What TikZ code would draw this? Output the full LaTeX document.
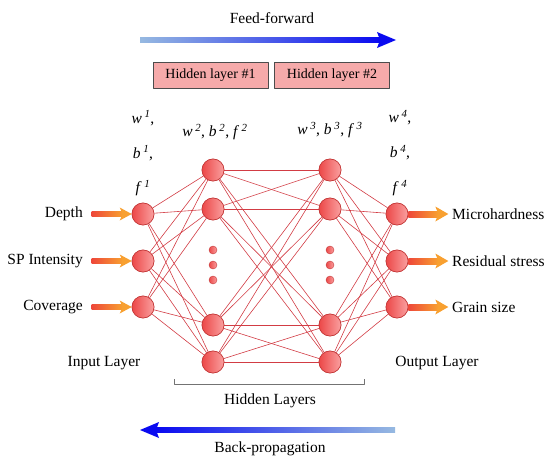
\documentclass[tikz,border=0pt]{standalone}
\usepackage{fontspec}
\setmainfont{Liberation Serif}
\usepackage{xcolor}
\usetikzlibrary{calc}

\definecolor{nodedark}{RGB}{236,72,72}
\definecolor{nodelight}{RGB}{250,160,160}
\definecolor{nodeline}{RGB}{196,58,58}
\definecolor{linkred}{RGB}{210,60,68}
\definecolor{boxpink}{RGB}{246,170,170}
\definecolor{arrred}{RGB}{238,72,58}
\definecolor{arrorange}{RGB}{248,160,48}
\definecolor{bluedeep}{RGB}{10,10,240}
\definecolor{bluepale}{RGB}{150,185,225}

\newcommand{\parm}[2]{\textit{#1}\,\textsuperscript{\textit{#2}}}

\begin{document}
\begin{tikzpicture}[x=1pt,y=-1pt,line join=round,
  neuron/.style={circle,draw=nodeline,line width=0.6pt,left color=nodedark,right color=nodelight,minimum size=22pt,inner sep=0pt},
  dotn/.style={circle,draw=nodeline,line width=0.4pt,left color=nodedark,right color=nodelight,minimum size=8pt,inner sep=0pt},
  link/.style={draw=linkred,line width=0.6pt},
  lbl/.style={font=\fontsize{15.5}{17}\selectfont,inner sep=0pt},
  hbox/.style={draw=black!70,fill=boxpink,line width=0.6pt,minimum width=115pt,minimum height=26pt,font=\fontsize{14}{16}\selectfont}]
  \useasboundingbox (0,0) rectangle (544,460);

  % neurons
  \node[neuron] (i1) at (143,214) {};
  \node[neuron] (i2) at (143,261) {};
  \node[neuron] (i3) at (143,307) {};
  \node[neuron] (h1) at (213,170) {};
  \node[neuron] (h2) at (213,209) {};
  \node[neuron] (h3) at (213,325) {};
  \node[neuron] (h4) at (213,362) {};
  \node[neuron] (g1) at (330,170) {};
  \node[neuron] (g2) at (330,209) {};
  \node[neuron] (g3) at (330,325) {};
  \node[neuron] (g4) at (330,362) {};
  \node[neuron] (o1) at (397,214) {};
  \node[neuron] (o2) at (397,261) {};
  \node[neuron] (o3) at (397,307) {};
  \foreach \y [count=\k] in {250,265,280} {
    \node[dotn] (hd\k) at (213,\y) {};
    \node[dotn] (gd\k) at (330,\y) {};
  }

  % links
  \foreach \a in {1,2,3} \foreach \b in {1,2,3,4} \draw[link] (i\a) -- (h\b);
  \foreach \a in {1,2,3,4} \foreach \b in {1,2,3,4} \draw[link] (h\a) -- (g\b);
  \foreach \a in {1,2,3,4} \foreach \b in {1,2,3} \draw[link] (g\a) -- (o\b);
  \foreach \n in {i1,i2,i3,h1,h2,h3,h4,g1,g2,g3,g4,o1,o2,o3}
    \node[neuron] at (\n) {};

  % input and output arrows
  \foreach \n in {i1,i2,i3} {
    \coordinate (tip) at (\n.west);
    \shade[left color=arrred,right color=arrorange] ($(tip)+(-40,-2.2)$) rectangle ($(tip)+(-9,2.2)$);
    \fill[arrorange] ($(tip)+(-12,-6.5)$) -- (tip) -- ($(tip)+(-12,6.5)$) -- ($(tip)+(-9,0)$) -- cycle;
  }
  \foreach \n in {o1,o2,o3} {
    \coordinate (base) at (\n.east);
    \shade[left color=arrred,right color=arrorange] ($(base)+(0,-3)$) rectangle ($(base)+(30,3)$);
    \fill[arrorange] ($(base)+(27,-7.5)$) -- ($(base)+(40,0)$) -- ($(base)+(27,7.5)$) -- ($(base)+(30,0)$) -- cycle;
  }
  \node[lbl,anchor=east] (tdepth) at (83,214) {Depth};
  \node[lbl,anchor=east] (tsp) at (83,261) {SP Intensity};
  \node[lbl,anchor=east] (tcov) at (83,307) {Coverage};
  \node[lbl,anchor=west] (tmh) at (452,214) {Microhardness};
  \node[lbl,anchor=west] (trs) at (452,261) {Residual stress};
  \node[lbl,anchor=west] (tgs) at (452,307) {Grain size};

  % parameters
  \node[lbl] (w1) at (143,118) {\parm{w}{1},};
  \node[lbl] (b1) at (143,153) {\parm{b}{1},};
  \node[lbl] (f1) at (143,188) {\parm{f}{1}};
  \node[lbl] (p2) at (215,132) {\parm{w}{2}, \parm{b}{2}, \parm{f}{2}};
  \node[lbl] (p3) at (330,130) {\parm{w}{3}, \parm{b}{3}, \parm{f}{3}};
  \node[lbl] (w4) at (400,118) {\parm{w}{4},};
  \node[lbl] (b4) at (400,153) {\parm{b}{4},};
  \node[lbl] (f4) at (400,188) {\parm{f}{4}};

  % layer names
  \node[lbl] (tin) at (104,363) {Input Layer};
  \node[lbl] (tout) at (437,363) {Output Layer};
  \draw[black!55,line width=0.7pt] (174,379) -- (174,384) -- (364,384) -- (364,379);
  \node[lbl] (thid) at (270,401) {Hidden Layers};

  % hidden layer boxes
  \node[hbox] (hb1) at (210.5,75) {Hidden layer \#1};
  \node[hbox] (hb2) at (332,75) {Hidden layer \#2};

  % feed-forward and back-propagation
  \node[lbl] (tff) at (272,18) {Feed-forward};
  \coordinate (ffL) at (140,40);
  \coordinate (ffR) at (396,40);
  \shade[left color=bluepale,right color=bluedeep] ($(ffL)+(0,-2.5)$) rectangle ($(ffR)+(-16,2.5)$);
  \fill[bluedeep] ($(ffR)+(-19,-8)$) -- (ffR) -- ($(ffR)+(-19,8)$) -- ($(ffR)+(-16,0)$) -- cycle;
  \node[lbl] (tbp) at (270,449) {Back-propagation};
  \coordinate (bpL) at (140,430);
  \coordinate (bpR) at (395,430);
  \shade[left color=bluedeep,right color=bluepale] ($(bpL)+(16,-2.5)$) rectangle ($(bpR)+(0,2.5)$);
  \fill[bluedeep] ($(bpL)+(19,-8)$) -- (bpL) -- ($(bpL)+(19,8)$) -- ($(bpL)+(16,0)$) -- cycle;
\end{tikzpicture}
\end{document}
